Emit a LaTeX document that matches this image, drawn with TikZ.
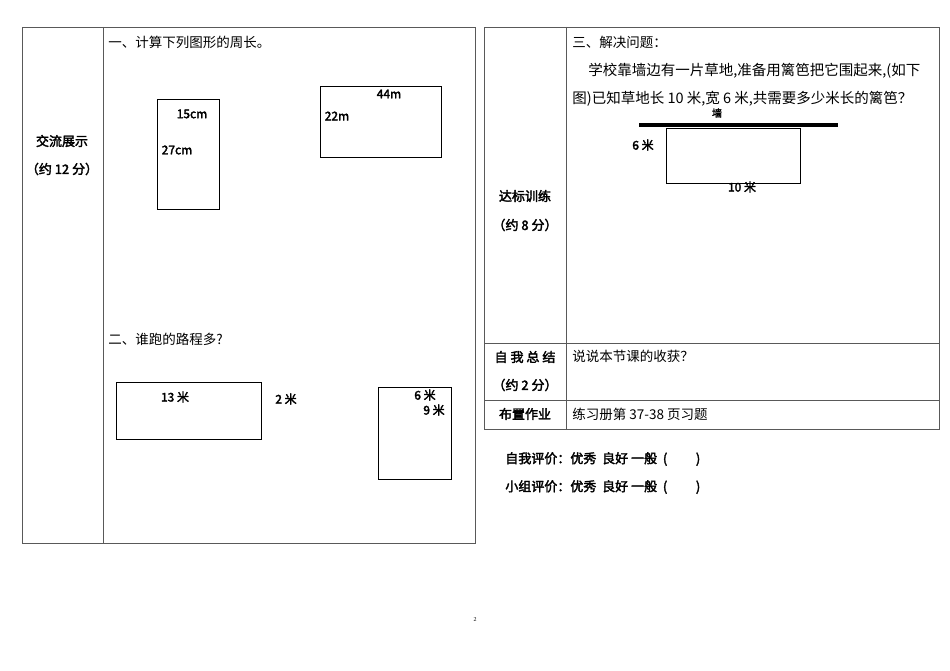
\documentclass[tikz,border=0pt]{standalone}
\usepackage{fontspec}
\setmainfont{Liberation Serif}
\newfontfamily\cjk{Noto Sans CJK SC}
\newfontfamily\cjkb[FakeBold=2.5]{Noto Sans CJK SC}
\begin{document}
\begin{tikzpicture}[x=1pt,y=-1pt,line width=0.7pt,
  txt/.style={font=\cjk\fontsize{13.5}{15}\selectfont,inner sep=0pt},
  lt/.style={txt,anchor=west},
  pt/.style={font=\cjk\fontsize{14.5}{16}\selectfont,inner sep=0pt,anchor=west},
  bt/.style={font=\cjkb\fontsize{13}{15}\selectfont,inner sep=0pt},
  sm/.style={font=\cjkb\fontsize{12}{14}\selectfont,inner sep=0pt}]
\useasboundingbox (0,0) rectangle (950,671);
% left table
\draw[gray!70!black] (22,27) rectangle (475,543);
\draw[gray!70!black] (103,27) -- (103,543);
\node[bt] (l1) at (62,141) {交流展示};
\node[bt] (l2) at (62,169) {（约 12 分）};
\node[lt] (t1) at (108,42) {一、计算下列图形的周长。};
\draw (157,99) rectangle (219,209);
\node[sm] (a1) at (192,114) {15cm};
\node[sm] (a2) at (177,150) {27cm};
\draw (320,86) rectangle (441,157);
\node[sm] (a3) at (389,94) {44m};
\node[sm] (a4) at (337,116) {22m};
\node[lt] (t2) at (108,339) {二、谁跑的路程多?};
\draw (116,382) rectangle (261,439);
\node[sm] (b1) at (175,397) {13 米};
\node[sm] (b2) at (286,399) {2 米};
\draw (378,387) rectangle (451,479);
\node[sm] (b3) at (425,395) {6 米};
\node[sm] (b4) at (434,410) {9 米};
% right table
\draw[gray!70!black] (484,27) rectangle (939,429);
\draw[gray!70!black] (566,27) -- (566,429);
\draw[gray!70!black] (484,343) -- (939,343);
\draw[gray!70!black] (484,400) -- (939,400);
\node[bt] (r1) at (525,196) {达标训练};
\node[bt] (r2) at (525,225) {（约 8 分）};
\node[bt] (r3) at (525,357) {自 我 总 结};
\node[bt] (r4) at (525,385) {（约 2 分）};
\node[bt] (r5) at (525,414) {布置作业};
\node[lt] (t3) at (572,42) {三、解决问题：};
\node[pt] (t4) at (588,71) {学校靠墙边有一片草地,准备用篱笆把它围起来,(如下};
\node[pt] (t5) at (572,99) {图)已知草地长 10 米,宽 6 米,共需要多少米长的篱笆？};
\draw[line width=4.5pt] (639,125) -- (838,125);
\node[font=\cjkb\fontsize{10}{11}\selectfont,inner sep=0pt] (w) at (717,113) {墙};
\draw (666,128) rectangle (800,183);
\node[sm] (c1) at (643,145) {6 米};
\node[sm] (c2) at (742,187) {10 米};
\node[lt] (t6) at (572,356) {说说本节课的收获？};
\node[lt] (t7) at (572,414) {练习册第 37-38 页习题};
\node[bt,anchor=west] (e1) at (505,459) {自我评价：优秀\ \ 良好 一般\ \ (\hspace{2.2em})};
\node[bt,anchor=west] (e2) at (505,487) {小组评价：优秀\ \ 良好 一般\ \ (\hspace{2.2em})};
\node[font=\fontsize{6}{7}\selectfont] (p) at (475,620) {2};
\end{tikzpicture}
\end{document}
